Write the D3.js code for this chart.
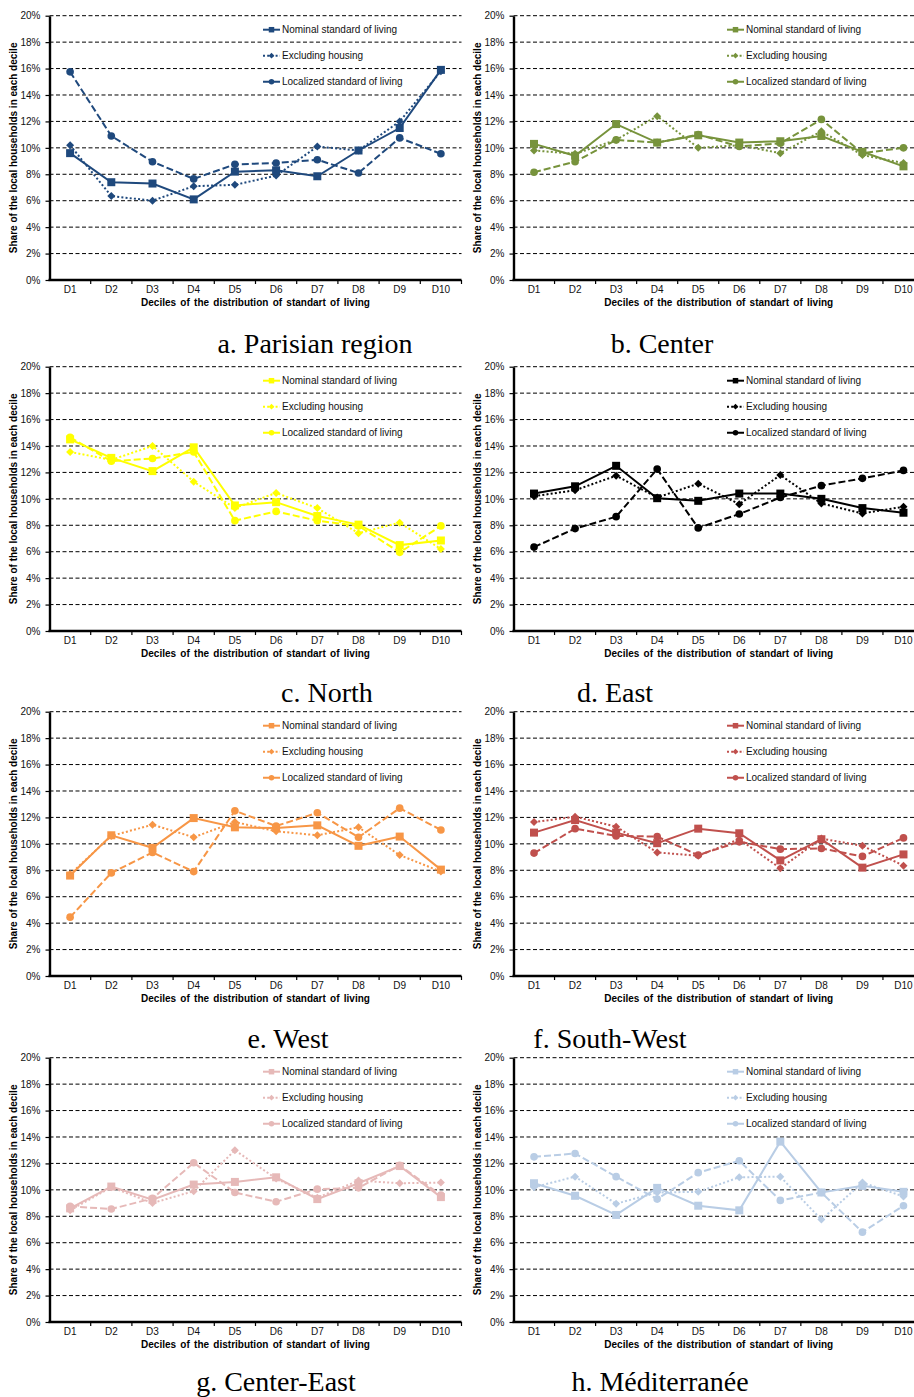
<!DOCTYPE html>
<html lang="en">
<head>
<meta charset="UTF-8">
<title>Share of local households per decile, by region</title>
<script src="https://d3js.org/d3.v7.min.js"></script>
<style>
	body { margin: 0; background: #fff; }
	svg { display: block; }
	.tick text { font-family: "Liberation Sans", Arial, sans-serif; font-size: 10px; fill: #111; }
</style>
</head>
<body>
<script>
	// categories and ticks
	const deciles = ["D1", "D2", "D3", "D4", "D5", "D6", "D7", "D8", "D9", "D10"];
	const yTicks = [0, 2, 4, 6, 8, 10, 12, 14, 16, 18, 20];
	const seriesNames = ["Nominal standard of living", "Excluding housing", "Localized standard of living"];

	// values (% of local households in each decile)
	const parisNominal   = [9.6, 7.4, 7.3, 6.1, 8.2, 8.3, 7.85, 9.8, 11.5, 15.9];
	const parisExcluding = [10.2, 6.35, 6.0, 7.1, 7.2, 7.9, 10.1, 9.8, 12.0, 15.8];
	const parisLocalized = [15.75, 10.9, 8.95, 7.65, 8.75, 8.85, 9.1, 8.1, 10.75, 9.55];

	const centerNominal   = [10.3, 9.4, 11.8, 10.4, 10.95, 10.4, 10.5, 10.9, 9.7, 8.6];
	const centerExcluding = [9.8, 9.55, 10.6, 12.4, 10.0, 10.2, 9.6, 11.25, 9.45, 8.85];
	const centerLocalized = [8.15, 8.95, 10.6, 10.4, 11.0, 10.1, 10.35, 12.15, 9.6, 10.0];

	const northNominal   = [14.5, 13.1, 12.1, 13.9, 9.5, 9.75, 8.7, 8.05, 6.5, 6.85];
	const northExcluding = [13.55, 12.95, 14.0, 11.3, 9.3, 10.45, 9.3, 7.4, 8.2, 6.2];
	const northLocalized = [14.65, 12.85, 13.05, 13.55, 8.35, 9.05, 8.35, 7.95, 5.95, 7.95];

	const eastNominal   = [10.4, 10.95, 12.5, 10.05, 9.85, 10.4, 10.4, 10.0, 9.3, 8.95];
	const eastExcluding = [10.2, 10.65, 11.75, 10.1, 11.15, 9.6, 11.8, 9.65, 8.9, 9.4];
	const eastLocalized = [6.35, 7.75, 8.65, 12.25, 7.8, 8.85, 10.1, 11.0, 11.55, 12.15];

	const westNominal   = [7.6, 10.65, 9.7, 11.95, 11.25, 11.2, 11.4, 9.85, 10.55, 8.05];
	const westExcluding = [7.7, 10.6, 11.45, 10.5, 11.65, 10.95, 10.65, 11.25, 9.15, 7.9];
	const westLocalized = [4.45, 7.8, 9.35, 7.9, 12.5, 11.35, 12.35, 10.5, 12.7, 11.05];

	const southWestNominal   = [10.85, 11.8, 10.85, 10.05, 11.15, 10.8, 8.75, 10.35, 8.2, 9.2];
	const southWestExcluding = [11.65, 12.05, 11.3, 9.35, 9.1, 10.35, 8.15, 10.4, 9.85, 8.35];
	const southWestLocalized = [9.3, 11.15, 10.6, 10.55, 9.15, 10.15, 9.6, 9.65, 9.05, 10.45];

	const centerEastNominal   = [8.6, 10.25, 9.25, 10.4, 10.6, 10.95, 9.3, 10.5, 11.8, 9.45];
	const centerEastExcluding = [8.45, 10.2, 9.0, 9.9, 13.0, 10.85, 9.4, 10.7, 10.5, 10.55];
	const centerEastLocalized = [8.75, 8.55, 9.35, 12.05, 9.8, 9.1, 10.05, 10.15, 11.85, 9.6];

	const medNominal   = [10.5, 9.55, 8.1, 10.15, 8.8, 8.45, 13.65, 9.8, 10.3, 9.85];
	const medExcluding = [10.2, 11.0, 8.95, 9.8, 9.85, 10.95, 11.0, 7.75, 10.55, 9.5];
	const medLocalized = [12.5, 12.75, 11.0, 9.3, 11.3, 12.2, 9.2, 9.8, 6.8, 8.8];

	const captions = ["a. Parisian region", "b. Center", "c. North", "d. East",
		"e. West", "f. South-West", "g. Center-East", "h. Méditerranée"];

	const panels = [
		[parisNominal, parisExcluding, parisLocalized],
		[centerNominal, centerExcluding, centerLocalized],
		[northNominal, northExcluding, northLocalized],
		[eastNominal, eastExcluding, eastLocalized],
		[westNominal, westExcluding, westLocalized],
		[southWestNominal, southWestExcluding, southWestLocalized],
		[centerEastNominal, centerEastExcluding, centerEastLocalized],
		[medNominal, medExcluding, medLocalized]
	];

	// styling / layout
	const colors = ["#1F497D", "#77933C", "#FFFF00", "#000000", "#F79646", "#C0504D", "#E6B9B8", "#B9CDE5"];
	const dashes = [null, "2 2.2", "7 3"];
	const markerShapes = [d3.symbolSquare, d3.symbolSquare, d3.symbolCircle];
	const markerSizes = [64, 32, 46];
	const legendSizes = [30, 16, 24];
	const markerRotate = [0, 45, 0];

	const colLeft = [49.5, 513.5];
	const colRight = [461.5, 924];
	const rowTop = [15.7, 366.7, 711.7, 1057.7];
	const plotH = 264.3;
	const captionX = [315, 662, 327, 615, 288, 610, 276, 660];
	const captionY = [353, 702, 1048, 1391];

	const W = 914, H = 1397;
	const font = '"Liberation Sans", Arial, sans-serif';

	const svg = d3.select("body").append("svg")
		.attr("width", W)
		.attr("height", H);

	svg.append("rect").attr("width", W).attr("height", H).attr("fill", "#fff");

	function drawPanel(series, i) {
		const col = i % 2, row = Math.floor(i / 2);
		const left = colLeft[col], right = colRight[col];
		const top = rowTop[row], bottom = top + plotH;
		const color = colors[i];

		const x = d3.scaleBand().domain(deciles).range([left, right]);
		const y = d3.scaleLinear().domain([0, 20]).range([bottom, top]);
		const cx = d => x(d) + x.bandwidth() / 2;

		const g = svg.append("g");

		// dashed gridlines
		g.selectAll(".grid")
			.data(yTicks.filter(t => t > 0))
			.join("line")
			.attr("x1", left).attr("x2", right)
			.attr("y1", d => y(d)).attr("y2", d => y(d))
			.attr("stroke", "#000")
			.attr("stroke-width", 1)
			.attr("stroke-dasharray", "4 2.5");

		// y axis
		const ya = g.append("g")
			.attr("transform", `translate(${left},0)`)
			.call(d3.axisLeft(y).tickValues(yTicks).tickFormat(d => d + "%")
				.tickSize(4).tickSizeOuter(0).tickPadding(5));
		ya.select(".domain").attr("stroke-width", 2.4);
		ya.selectAll(".tick line").attr("stroke-width", 1.2);

		// x axis labels
		const xa = g.append("g")
			.attr("transform", `translate(0,${bottom})`)
			.call(d3.axisBottom(x).tickSize(0).tickPadding(5.5));
		xa.select(".domain").remove();

		// x axis line and boundary ticks
		g.append("line")
			.attr("x1", left - 1).attr("x2", right)
			.attr("y1", bottom).attr("y2", bottom)
			.attr("stroke", "#000").attr("stroke-width", 2.4);
		g.selectAll(".xtick")
			.data(deciles.slice(1).concat(["end"]))
			.join("line")
			.attr("x1", d => d === "end" ? right : x(d))
			.attr("x2", d => d === "end" ? right : x(d))
			.attr("y1", bottom).attr("y2", bottom + 4)
			.attr("stroke", "#000").attr("stroke-width", 1.2);

		// axis titles
		g.append("text")
			.attr("x", (left + right > W ? (left + right) / 2 : (left + right) / 2))
			.attr("y", bottom + 26)
			.attr("text-anchor", "middle")
			.attr("font-family", font).attr("font-size", 10).attr("font-weight", "bold")
			.attr("word-spacing", 1.5)
			.text("Deciles of the distribution of standart of living");

		g.append("text")
			.attr("transform", `translate(${left - 32.5},${(top + bottom) / 2}) rotate(-90)`)
			.attr("text-anchor", "middle")
			.attr("font-family", font).attr("font-size", 10).attr("font-weight", "bold")
			.text("Share of the local households in each decile");

		// series
		const line = d3.line().x((d, k) => cx(deciles[k])).y(d => y(d));
		series.forEach((vals, s) => {
			g.append("path")
				.datum(vals)
				.attr("d", line)
				.attr("fill", "none")
				.attr("stroke", color)
				.attr("stroke-width", 2)
				.attr("stroke-dasharray", dashes[s]);
		});
		series.forEach((vals, s) => {
			g.selectAll(".m" + s)
				.data(vals)
				.join("path")
				.attr("transform", (d, k) => `translate(${cx(deciles[k])},${y(d)}) rotate(${markerRotate[s]})`)
				.attr("d", d3.symbol(markerShapes[s], markerSizes[s]))
				.attr("fill", color);
		});

		// legend
		const lg = g.append("g").attr("transform", `translate(${left + 213.5},${top + 14})`);
		seriesNames.forEach((name, s) => {
			const r = lg.append("g").attr("transform", `translate(0,${s * 26})`);
			r.append("line")
				.attr("x1", 0).attr("x2", 17)
				.attr("stroke", color).attr("stroke-width", 2)
				.attr("stroke-dasharray", dashes[s]);
			r.append("path")
				.attr("transform", `translate(8.5,0) rotate(${markerRotate[s]})`)
				.attr("d", d3.symbol(markerShapes[s], legendSizes[s]))
				.attr("fill", color);
			r.append("text")
				.attr("x", 19)
				.attr("dy", "0.35em")
				.attr("font-family", font).attr("font-size", 10).attr("fill", "#111")
				.text(name);
		});

		// caption
		svg.append("text")
			.attr("x", captionX[i])
			.attr("y", captionY[row])
			.attr("text-anchor", "middle")
			.attr("font-family", '"Liberation Serif", "Times New Roman", serif')
			.attr("font-size", 28)
			.attr("fill", "#000")
			.text(captions[i]);
	}

	panels.forEach(drawPanel);
</script>
</body>
</html>
